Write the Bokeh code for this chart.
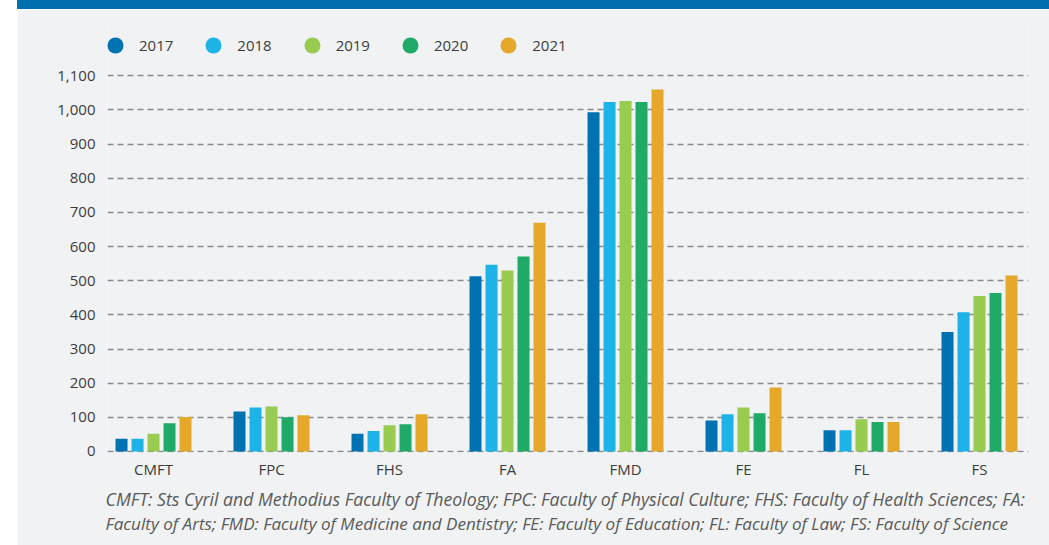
from bokeh.plotting import figure
from bokeh.models import (Range1d, FixedTicker, NumeralTickFormatter, ColumnDataSource,
                          Legend, LegendItem, Title, Spacer, Div)
from bokeh.layouts import row, column
from bokeh.transform import dodge
from bokeh.embed import file_html
from bokeh.resources import INLINE

categories = ["CMFT", "FPC", "FHS", "FA", "FMD", "FE", "FL", "FS"]
years = ["2017", "2018", "2019", "2020", "2021"]
v2017 = [37, 117, 52, 513, 993, 91, 62, 350]
v2018 = [37, 129, 60, 547, 1023, 109, 62, 408]
v2019 = [52, 132, 77, 530, 1026, 129, 94, 455]
v2020 = [83, 100, 80, 571, 1023, 112, 86, 464]
v2021 = [101, 106, 109, 670, 1060, 187, 86, 515]
y_ticks = list(range(0, 1101, 100))
colors = ["#0072B1", "#1DB3E7", "#9ACB51", "#1FAA67", "#E5A82B"]
footnote1 = ("CMFT: Sts Cyril and Methodius Faculty of Theology; FPC: Faculty of Physical Culture; "
             "FHS: Faculty of Health Sciences; FA:")
footnote2 = ("Faculty of Arts; FMD: Faculty of Medicine and Dentistry; FE: Faculty of Education;  "
             "FL: Faculty of Law; FS: Faculty of Science")

BG = "#F0F2F4"
BLUE = "#0070B0"
FONT = "Open Sans"

source = ColumnDataSource(dict(x=list(range(len(categories))),
                               y2017=v2017, y2018=v2018, y2019=v2019,
                               y2020=v2020, y2021=v2021))

p = figure(width=1032, height=536, output_backend="svg", toolbar_location=None,
           x_range=Range1d(-0.39, 7.415), y_range=Range1d(-3, 1262),
           min_border_left=90, min_border_right=21, min_border_top=11, min_border_bottom=93,
           background_fill_color=BG, border_fill_color=BG, outline_line_color=None)
p.margin = 0

step = 0.1356
bw = 0.1017
for i, (yr, c) in enumerate(zip(years, colors)):
    p.vbar(x=dodge("x", (i - 2) * step, range=p.x_range), top="y" + yr, bottom=0,
           width=bw, source=source, fill_color=c, line_color=None)

# axes
p.xaxis.ticker = FixedTicker(ticks=list(range(len(categories))))
p.xaxis.major_label_overrides = {i: c for i, c in enumerate(categories)}
p.yaxis.ticker = FixedTicker(ticks=y_ticks)
p.yaxis.formatter = NumeralTickFormatter(format="0,0")
for ax in (p.xaxis[0], p.yaxis[0]):
    ax.axis_line_color = None
    ax.major_tick_line_color = None
    ax.minor_tick_line_color = None
    ax.major_tick_out = 0
    ax.major_tick_in = 0
    ax.minor_tick_out = 0
    ax.minor_tick_in = 0
    ax.major_label_text_font = FONT
    ax.major_label_text_font_size = "15px"
    ax.major_label_text_color = "#3c3c3c"
p.yaxis.major_label_standoff = 12
p.xaxis.major_label_standoff = 6

p.xgrid.grid_line_color = None
p.ygrid.ticker = FixedTicker(ticks=y_ticks)
p.ygrid.grid_line_color = "#8a8a8a"
p.ygrid.grid_line_dash = "6 4"
p.ygrid.grid_line_width = 1.4

# legend (circle markers drawn by the legend itself)
dots = []
for yr, c in zip(years, colors):
    d = p.scatter(x=[-10], y=[-10], marker="circle", size=16, fill_color=c, line_color=None)
    dots.append(d)
legend = Legend(items=[LegendItem(label=yr, renderers=[d]) for yr, d in zip(years, dots)],
                orientation="horizontal", location=(-12, 387),
                glyph_width=40, glyph_height=40, label_standoff=4, spacing=20,
                padding=0, margin=0, border_line_color=None, background_fill_alpha=0,
                label_text_font=FONT, label_text_font_size="15px", label_text_color="#3c3c3c",
                label_height=20)
p.add_layout(legend, "center")

for txt, so, fs in ((footnote1, 6, "17.7px"), (footnote2, -8, "17.1px")):
    t = Title(text=txt, align="left", text_font=FONT, text_font_size=fs,
              text_font_style="italic", text_color="#5a5a5a", standoff=so, offset=-2)
    p.add_layout(t, "below")

band = Div(text="", width=1032, height=9, margin=0, styles={"background-color": BLUE})
layout = row(Spacer(width=17, height=545, margin=0), column(band, p, spacing=0), spacing=0)
open("out.html", "w").write(file_html(layout, INLINE))
